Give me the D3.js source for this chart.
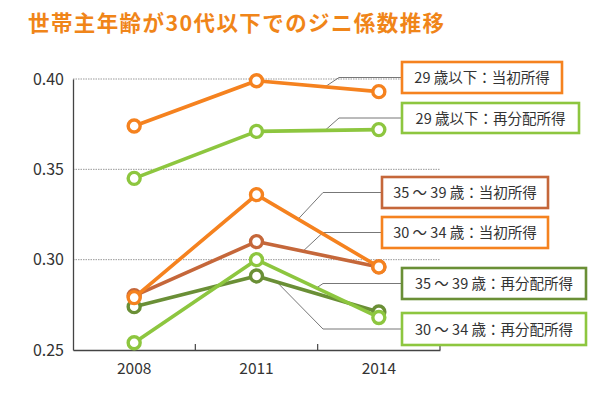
<!DOCTYPE html>
<html>
<head>
<meta charset="utf-8">
<script src="https://cdn.jsdelivr.net/npm/d3@7"></script>
<style>
  body { margin: 0; background: #fff; }
  text { font-family: "Noto Sans CJK JP", "Noto Sans", sans-serif; }
</style>
</head>
<body>
<svg id="chart" width="612" height="397"></svg>
<script>
// data
const years = ['2008', '2011', '2014'];
const yTicks = [0.25, 0.30, 0.35, 0.40];
const gridTicks = [0.30, 0.35, 0.40];

const u29Initial = [0.374, 0.399, 0.393];
const u29Redist = [0.345, 0.371, 0.372];
const a3539Initial = [0.280, 0.310, 0.296];
const a3034Initial = [0.279, 0.336, 0.296];
const a3539Redist = [0.274, 0.291, 0.271];
const a3034Redist = [0.254, 0.300, 0.268];

const seriesNames = [
  '29 歳以下：当初所得',
  '29 歳以下：再分配所得',
  '35 ～ 39 歳：当初所得',
  '30 ～ 34 歳：当初所得',
  '35 ～ 39 歳：再分配所得',
  '30 ～ 34 歳：再分配所得'
];

const orange = '#f5821f', lightGreen = '#8dc63f', brown = '#c5673a', darkGreen = '#6a8f36';

const series = [
  {name: seriesNames[0], values: u29Initial, color: orange},
  {name: seriesNames[1], values: u29Redist, color: lightGreen},
  {name: seriesNames[4], values: a3539Redist, color: darkGreen},
  {name: seriesNames[2], values: a3539Initial, color: brown},
  {name: seriesNames[5], values: a3034Redist, color: lightGreen},
  {name: seriesNames[3], values: a3034Initial, color: orange}
];

// label boxes and where their leader lines land (segment 2011->2014, fraction t)
const labels = [
  {text: seriesNames[0], box: [402, 62, 160, 31], color: orange, target: u29Initial, seg: 1, t: 0.56, bendX: 339},
  {text: seriesNames[1], box: [402, 103, 177, 30], color: lightGreen, target: u29Redist, seg: 1, t: 0.56, bendX: 339},
  {text: seriesNames[2], box: [382, 177, 166, 31], color: brown, target: a3034Initial, seg: 1, t: 0.34, bendX: 323},
  {text: seriesNames[3], box: [382, 217, 166, 31], color: orange, target: a3539Initial, seg: 1, t: 0.38, bendX: 323},
  {text: seriesNames[4], box: [402, 268, 184, 31], color: darkGreen, target: a3034Redist, seg: 1, t: 0.49, bendX: 323},
  {text: seriesNames[5], box: [402, 313, 184, 32], color: lightGreen, target: a3539Redist, seg: 1, t: 0.165, bendX: 323}
];

const svg = d3.select('#chart');

svg.append('text')
  .attr('x', 28)
  .attr('y', 31)
  .attr('fill', '#f08519')
  .attr('font-size', 21.5)
  .attr('font-weight', 'bold')
  .attr('letter-spacing', 1.4)
  .text('世帯主年齢が30代以下でのジニ係数推移');

const x = d3.scaleBand()
  .domain(years)
  .range([73, 440]);

const y = d3.scaleLinear()
  .domain([0.25, 0.40])
  .range([350, 79]);

const px = i => x(years[i]) + x.bandwidth() / 2;

// gridlines
svg.append('g')
  .selectAll('line')
  .data(gridTicks)
  .join('line')
  .attr('x1', 73)
  .attr('x2', 440)
  .attr('y1', d => y(d))
  .attr('y2', d => y(d))
  .attr('stroke', '#999')
  .attr('stroke-width', 1)
  .attr('stroke-dasharray', '1.5,1');

// y axis
const yAxis = svg.append('g')
  .attr('transform', 'translate(73,0)')
  .call(d3.axisLeft(y).tickValues(yTicks).tickFormat(d3.format('.2f')).tickSize(0).tickPadding(9));
yAxis.select('.domain').attr('stroke', '#444').attr('stroke-width', 1.3);
yAxis.selectAll('text')
  .attr('font-family', '"DejaVu Sans Condensed", "Noto Sans", sans-serif')
  .attr('font-size', 16)
  .attr('fill', '#333');

// x axis
const xAxis = svg.append('g')
  .attr('transform', 'translate(0,350)')
  .call(d3.axisBottom(x).tickSize(0).tickPadding(13));
xAxis.select('.domain').attr('stroke', '#444').attr('stroke-width', 1.3);
xAxis.selectAll('text')
  .attr('font-family', '"DejaVu Sans Condensed", "Noto Sans", sans-serif')
  .attr('font-size', 15.5)
  .attr('fill', '#333');

// small upward ticks at band edges
svg.append('g')
  .selectAll('line')
  .data(years.slice(1).concat(['end']))
  .join('line')
  .attr('x1', d => d === 'end' ? x.range()[1] : x(d))
  .attr('x2', d => d === 'end' ? x.range()[1] : x(d))
  .attr('y1', 350)
  .attr('y2', 344)
  .attr('stroke', '#444')
  .attr('stroke-width', 1.2);

// leader lines
const leaders = svg.append('g');
labels.forEach(l => {
  const [bx, by, bw, bh] = l.box;
  const x0 = px(l.seg), x1 = px(l.seg + 1);
  const tx = x0 + (x1 - x0) * l.t;
  const ty = y(l.target[l.seg]) + (y(l.target[l.seg + 1]) - y(l.target[l.seg])) * l.t;
  const my = by + bh / 2;
  leaders.append('path')
    .attr('d', d3.line()([[bx, my], [l.bendX, my], [tx, ty]]))
    .attr('fill', 'none')
    .attr('stroke', '#777')
    .attr('stroke-width', 1);
});

// series lines
const line = d3.line()
  .x((d, i) => px(i))
  .y(d => y(d));

const sg = svg.append('g')
  .selectAll('g')
  .data(series)
  .join('g');

sg.append('path')
  .attr('d', d => line(d.values))
  .attr('fill', 'none')
  .attr('stroke', d => d.color)
  .attr('stroke-width', 3.6)
  .attr('stroke-linejoin', 'round');

sg.selectAll('circle')
  .data(d => d.values.map(v => ({v, color: d.color})))
  .join('circle')
  .attr('cx', (d, i) => px(i))
  .attr('cy', d => y(d.v))
  .attr('r', 6)
  .attr('fill', '#fff')
  .attr('stroke', d => d.color)
  .attr('stroke-width', 3.4);

// label boxes
const lg = svg.append('g')
  .selectAll('g')
  .data(labels)
  .join('g');

lg.append('rect')
  .attr('x', d => d.box[0])
  .attr('y', d => d.box[1])
  .attr('width', d => d.box[2])
  .attr('height', d => d.box[3])
  .attr('fill', '#fff')
  .attr('stroke', d => d.color)
  .attr('stroke-width', 2.6);

lg.append('text')
  .attr('x', d => d.box[0] + d.box[2] / 2)
  .attr('y', d => d.box[1] + d.box[3] / 2 + 5.5)
  .attr('text-anchor', 'middle')
  .attr('font-size', 14.5)
  .attr('fill', '#333')
  .text(d => d.text);
</script>
</body>
</html>
